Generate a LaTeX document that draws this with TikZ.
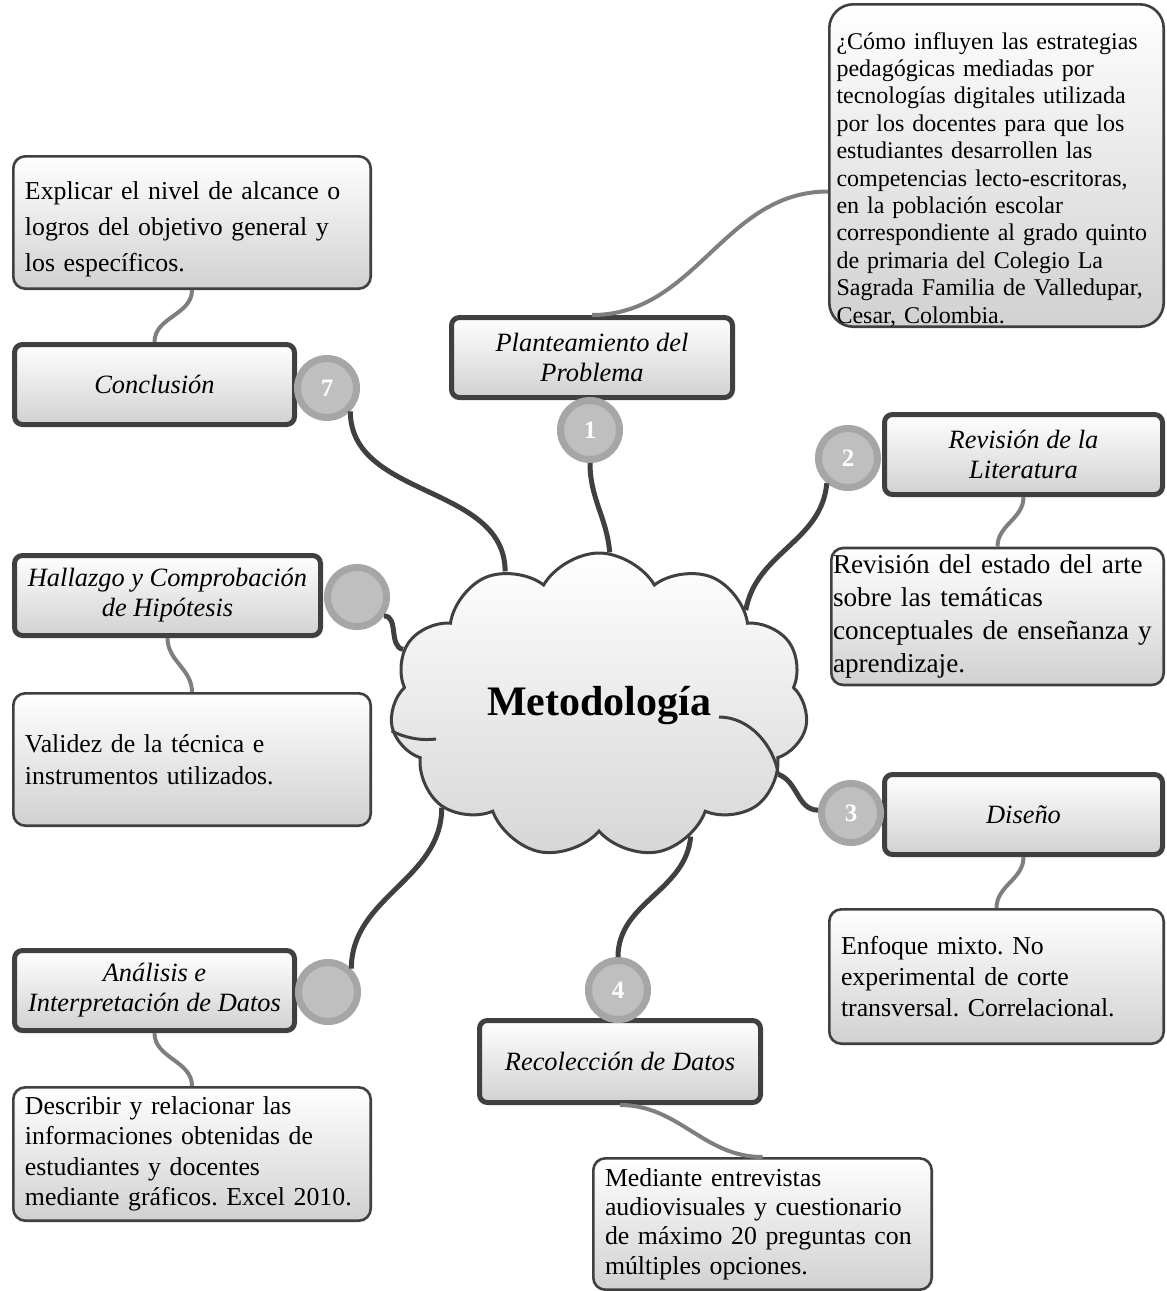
\documentclass[tikz,border=0pt]{standalone}
\usepackage{fontspec}
\setmainfont{Liberation Serif}
\frenchspacing
\usetikzlibrary{shapes.symbols}
\definecolor{borde}{HTML}{404040}
\definecolor{anillo}{HTML}{A6A6A6}
\definecolor{disco}{HTML}{BFBFBF}
\definecolor{hilo}{HTML}{7F7F7F}

\begin{document}
\begin{tikzpicture}[x=0.5pt,y=-0.5pt]
	\tikzset{tema/.style={draw=borde, line width=2.5pt, rounded corners=4pt, top color=white, bottom color=black!18, minimum width=140pt, minimum height=40pt, align=center, font=\fontsize{13.2}{15}\selectfont\itshape}}
	\tikzset{texto/.style={draw=borde, line width=1.3pt, rounded corners=6pt, top color=white, bottom color=black!18, align=left, minimum width=178.7pt, minimum height=66.2pt, text width=167pt, font=\fontsize{12.9}{16}\selectfont}}
	\tikzset{num/.style={circle, draw=anillo, fill=disco, line width=3.5pt, minimum size=29.5pt, inner sep=0pt, text=white, font=\fontsize{12.5}{12.5}\selectfont\bfseries}}
	\tikzset{rama/.style={draw=borde, line width=2.5pt}}
	\tikzset{enlace/.style={draw=hilo, line width=2pt}}
	\tikzset{pliegue/.style={draw=borde, line width=1.5pt}}
	\useasboundingbox (0,0) rectangle (1167,1291);
	\node[cloud, cloud puffs=11, cloud puff arc=120, cloud ignores aspect, minimum width=209pt, minimum height=152.5pt, draw=borde, line width=1.5pt, top color=white, bottom color=black!16, font=\fontsize{21}{21}\selectfont\bfseries] (metodologia) at (599,705.5) {Metodología};
	\draw[pliegue] ([shift={(120,11.5)}]metodologia.center) .. controls +(30,0) and +(-5,-30) .. (metodologia.-21);
	\draw[pliegue] (metodologia.187) .. controls +(12,6) and +(-18,2) .. ([shift={(-163,33.5)}]metodologia.center);
	\node[texto, minimum width=167.2pt, minimum height=161.2pt, text width=160pt, inner ysep=2pt, text height=8.5pt, text depth=125pt, rounded corners=12pt, font=\fontsize{12}{13.7}\selectfont] (pregunta) at (996.5,165.5) {¿Cómo influyen las estrategias\\pedagógicas mediadas por\\tecnologías digitales utilizada\\por los docentes para que los\\estudiantes desarrollen las\\competencias lecto-escritoras,\\en la población escolar\\correspondiente al grado quinto\\de primaria del Colegio La\\Sagrada Familia de Valledupar,\\Cesar, Colombia.};
	\node[texto, text height=9pt, text depth=32.5pt, font=\fontsize{12.9}{18}\selectfont] (explicar) at (192,222.5) {Explicar el nivel de alcance o\\logros del objetivo general y\\los específicos.};
	\node[texto, minimum width=166.2pt, minimum height=67.2pt, text width=164.5pt, inner xsep=0.5pt, font=\fontsize{13.6}{16.5}\selectfont] (revtexto) at (997.5,616.5) {Revisión del estado del arte\\sobre las temáticas\\conceptuales de enseñanza y\\aprendizaje.};
	\node[texto] (validez) at (192,759.5) {Validez de la técnica e\\instrumentos utilizados.};
	\node[texto, minimum width=167.2pt, minimum height=67.2pt, text width=155.5pt, font=\fontsize{12.9}{15.5}\selectfont] (enfoque) at (996.5,976.5) {Enfoque mixto. No\\experimental de corte\\transversal. Correlacional.};
	\node[texto, minimum height=66.7pt, font=\fontsize{12.9}{15.2}\selectfont] (describir) at (192,1154) {Describir y relacionar las\\informaciones obtenidas de\\estudiantes y docentes\\mediante gráficos. Excel 2010.};
	\node[texto, minimum width=169.2pt, minimum height=65.7pt, text width=157.5pt, font=\fontsize{12.9}{14.6}\selectfont] (mediante) at (762.5,1224) {Mediante entrevistas\\audiovisuales y cuestionario\\de máximo 20 preguntas con\\múltiples opciones.};
	\node[tema] (conclusion) at (154.5,384.5) {Conclusión};
	\node[tema, minimum width=140.5pt] (planteamiento) at (592,357.5) {Planteamiento del\\Problema};
	\node[tema, minimum width=139pt] (revision) at (1023.5,454.5) {Revisión de la\\Literatura};
	\node[tema, minimum width=153pt] (hallazgo) at (167.5,595.5) {Hallazgo y Comprobación\\de Hipótesis};
	\node[tema, minimum width=139pt] (diseno) at (1023.5,814.5) {Diseño};
	\node[tema] (analisis) at (154.5,990.5) {Análisis e\\Interpretación de Datos};
	\node[tema, minimum width=140.5pt, minimum height=41pt] (recoleccion) at (620,1061.5) {Recolección de Datos};
	\node[num] (n7) at (327,388) {7};
	\node[num] (n1) at (590,430) {1};
	\node[num] (n2) at (848,458) {2};
	\node[num] (nh) at (357,597) {};
	\node[num] (n3) at (851,813) {3};
	\node[num] (n4) at (618,990) {4};
	\node[num] (na) at (328,992) {};
	\draw[rama] (n7.-45) to[out=-90,in=90] (metodologia.125);
	\draw[rama] (n1.south) to[out=-90,in=95] (metodologia.86);
	\draw[rama] (n2.-130) to[out=-95,in=80] (metodologia.33);
	\draw[rama] (nh.-35) to[out=0,in=170] (metodologia.164);
	\draw[rama] (n3.175) to[out=180,in=-20] (metodologia.-21);
	\draw[rama] (n4.north) to[out=90,in=-95] (metodologia.-55);
	\draw[rama] (na.45) to[out=90,in=-90] (metodologia.-147);
	\draw[enlace] (explicar.south) to[out=-90,in=90] (conclusion.north);
	\draw[enlace] (planteamiento.north) to[out=0,in=180] ([yshift=-13pt]pregunta.west);
	\draw[enlace] (revision.south) to[out=-90,in=90] (revtexto.north);
	\draw[enlace] (hallazgo.south) to[out=-90,in=90] (validez.north);
	\draw[enlace] (diseno.south) to[out=-90,in=90] (enfoque.north);
	\draw[enlace] (analisis.south) to[out=-90,in=90] (describir.north);
	\draw[enlace] (recoleccion.south) to[out=0,in=180] (mediante.north);
\end{tikzpicture}
\end{document}
